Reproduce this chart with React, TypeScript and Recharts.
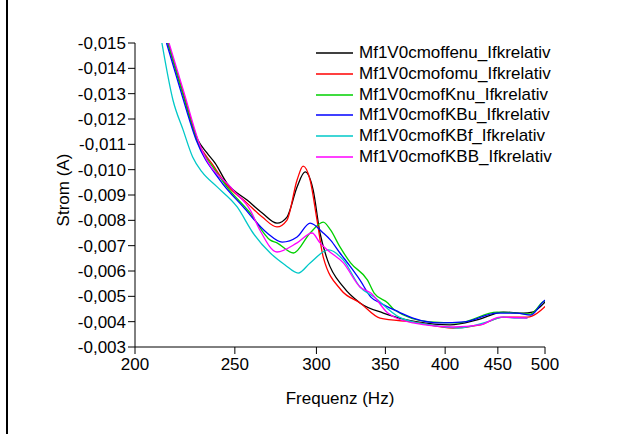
import React from 'react';
import { LineChart, Line, XAxis, YAxis, Legend } from 'recharts';

const FONT = '"Liberation Sans", Arial, sans-serif';

const seriesNames = [
  'Mf1V0cmoffenu_Ifkrelativ',
  'Mf1V0cmofomu_Ifkrelativ',
  'Mf1V0cmofKnu_Ifkrelativ',
  'Mf1V0cmofKBu_Ifkrelativ',
  'Mf1V0cmofKBf_Ifkrelativ',
  'Mf1V0cmofKBB_Ifkrelativ',
];
const seriesColors = ['#000000', '#ff0000', '#00d000', '#0000ff', '#00c8c8', '#ff00ff'];

// Frequenz (Hz) / Strom (A) per curve
const freqOffenu = [215.3, 222.7, 230.2, 234.9, 239.2, 245.6, 256.9, 265.8, 274.7, 280.9, 287.3, 292.5, 297.8, 302.4, 307.5, 318.6, 330.7, 348.4, 375.9, 404.4, 429.6, 455.5, 476.3, 486, 502];
const currOffenu = [-0.015, -0.0130, -0.01117, -0.01066, -0.01026, -0.00947, -0.0088, -0.00829, -0.00789, -0.00813, -0.00932, -0.00991, -0.0092, -0.0075, -0.00643, -0.00537, -0.00474, -0.00434, -0.00399, -0.00387, -0.00407, -0.00438, -0.00434, -0.00438, -0.00485];

const freqOmu = [215.3, 222.7, 230.2, 238.1, 245.6, 256.9, 265.8, 274.7, 280.9, 287.3, 291.2, 295.8, 300.4, 304.6, 317, 330.7, 345.8, 372.3, 407.3, 432.5, 455.5, 480.7, 502];
const currOmu = [-0.015, -0.01303, -0.01109, -0.01018, -0.00939, -0.00868, -0.00813, -0.00774, -0.00801, -0.00959, -0.01014, -0.00959, -0.00801, -0.00655, -0.00525, -0.00474, -0.00414, -0.00399, -0.00375, -0.00387, -0.00418, -0.00418, -0.00466];

const freqKnu = [215.3, 222.7, 230.2, 238.1, 245.6, 258.7, 270.6, 274.7, 285.0, 295.8, 304.6, 309.6, 316.2, 323.8, 336.3, 341.3, 351.9, 357.2, 386.7, 411.3, 449.3, 469.8, 484.1, 497.8, 502];
const currKnu = [-0.015, -0.01295, -0.01105, -0.0101, -0.00932, -0.00829, -0.00722, -0.00711, -0.00671, -0.0075, -0.00793, -0.00762, -0.00695, -0.00632, -0.00564, -0.00513, -0.00474, -0.00446, -0.00399, -0.00395, -0.00438, -0.00434, -0.0043, -0.00478, -0.00485];

const freqKBu = [214.6, 221.8, 229.3, 241.8, 254.7, 268.7, 277.9, 287.3, 295.8, 304.6, 309.6, 316.2, 323.8, 330.7, 338.8, 345.8, 360.8, 372.3, 395.5, 417.2, 449.3, 469.8, 484.1, 497.8, 502];
const currKBu = [-0.015, -0.01303, -0.01117, -0.00959, -0.00853, -0.0075, -0.00714, -0.00734, -0.00789, -0.0075, -0.00722, -0.00671, -0.00616, -0.00564, -0.00497, -0.00474, -0.00438, -0.00414, -0.00395, -0.00399, -0.00434, -0.00434, -0.00426, -0.00478, -0.0049];

const freqKBf = [212.4, 217.7, 222.7, 227.5, 232.3, 240.3, 251.3, 260.4, 270.6, 279.7, 288.0, 295.8, 308.2, 318.6, 330.7, 341.3, 360.8, 386.7, 411.3, 439.3, 455.5, 469.8, 480.7];
const currKBf = [-0.015, -0.01275, -0.01157, -0.0105, -0.00991, -0.00932, -0.00853, -0.0075, -0.00671, -0.00624, -0.00592, -0.00632, -0.00683, -0.00643, -0.00537, -0.00497, -0.00418, -0.00387, -0.00375, -0.00399, -0.00418, -0.00414, -0.00414];

const freqKBB = [215.8, 223.2, 231.2, 249.0, 258.7, 264.5, 274.7, 287.3, 297.1, 302.4, 307.5, 318.6, 330.7, 338.8, 351.9, 372.3, 407.3, 432.5, 452.3, 480.7];
const currKBB = [-0.015, -0.01303, -0.01097, -0.0092, -0.00841, -0.0076, -0.00675, -0.00711, -0.0075, -0.00711, -0.00683, -0.00632, -0.00537, -0.00513, -0.00434, -0.00395, -0.00379, -0.00387, -0.00418, -0.00414];

const xTicks = [200, 250, 300, 350, 400, 450, 500];
const yTicks = [-0.015, -0.014, -0.013, -0.012, -0.011, -0.01, -0.009, -0.008, -0.007, -0.006, -0.005, -0.004, -0.003];
const xMinorTicks = Array.from({ length: 61 }, (_, i) => 200 + i * 5);
const yMinorTicks = Array.from({ length: 25 }, (_, i) => Math.round((-0.015 + i * 0.0005) * 1e5) / 1e5);

const toRows = (f: number[], c: number[]) => f.map((x, i) => ({ f: x, i: c[i] }));

const seriesData = [
  toRows(freqOffenu, currOffenu),
  toRows(freqOmu, currOmu),
  toRows(freqKnu, currKnu),
  toRows(freqKBu, currKBu),
  toRows(freqKBf, currKBf),
  toRows(freqKBB, currKBB),
];

const fmtY = (v: number) => v.toFixed(3).replace('.', ',');

const XTitle = () => (
  <text x={340} y={398} textAnchor="middle" dominantBaseline="central" fontFamily={FONT} fontSize={17} fill="#000">
    Frequenz (Hz)
  </text>
);

const YTitle = () => (
  <text x={63} y={190} transform="rotate(-90 63 190)" textAnchor="middle" dominantBaseline="central" fontFamily={FONT} fontSize={17} fill="#000">
    Strom (A)
  </text>
);

const renderLegend = (props: any) => {
  const { payload } = props;
  return (
    <div style={{ fontFamily: FONT, fontSize: 17, color: '#000' }}>
      {payload.map((entry: any) => (
        <div key={entry.value} style={{ display: 'flex', alignItems: 'center', height: 20.7, whiteSpace: 'nowrap' }}>
          <svg width={37} height={4}>
            <line x1={0} y1={2} x2={37} y2={2} stroke={entry.color} strokeWidth={1.3} />
          </svg>
          <span style={{ marginLeft: 6 }}>{entry.value}</span>
        </div>
      ))}
    </div>
  );
};

const tickStyle = { fontSize: 17, fill: '#000', fontFamily: FONT };

export default function App() {
  return (
    <div style={{ position: 'absolute', left: 0, top: 0, width: 627, height: 434, background: '#fff' }}>
      <div style={{ position: 'absolute', left: 6, top: 0, width: 2, height: 434, background: '#000' }} />
      <LineChart width={627} height={434} margin={{ top: 43, right: 82, bottom: 0, left: 0 }}>
        <XAxis
          xAxisId="minor"
          type="number"
          dataKey="f"
          scale="log"
          domain={[200, 500]}
          allowDataOverflow
          ticks={xMinorTicks}
          interval={0}
          height={0}
          tickSize={4}
          axisLine={false}
          tickLine={{ stroke: '#000' }}
          tickFormatter={() => ''}
        />
        <YAxis
          yAxisId="minor"
          type="number"
          dataKey="i"
          domain={[-0.015, -0.003]}
          reversed
          allowDataOverflow
          ticks={yMinorTicks}
          interval={0}
          width={0}
          tickSize={4}
          axisLine={false}
          tickLine={{ stroke: '#000' }}
          tickFormatter={() => ''}
        />
        <XAxis
          xAxisId="main"
          type="number"
          dataKey="f"
          scale="log"
          domain={[200, 500]}
          allowDataOverflow
          ticks={xTicks}
          interval={0}
          height={87}
          tickSize={7}
          tickMargin={4}
          stroke="#000"
          tick={tickStyle}
          label={<XTitle />}
        />
        <YAxis
          yAxisId="main"
          type="number"
          dataKey="i"
          domain={[-0.015, -0.003]}
          reversed
          allowDataOverflow
          ticks={yTicks}
          interval={0}
          width={135}
          tickSize={7}
          tickMargin={2}
          stroke="#000"
          tick={tickStyle}
          tickFormatter={fmtY}
          label={<YTitle />}
        />
        <Legend
          layout="vertical"
          align="center"
          verticalAlign="middle"
          itemSorter={(item: any) => seriesNames.indexOf(item.value)}
          wrapperStyle={{ top: 43, left: 316 }}
          content={renderLegend}
        />
        {seriesData.map((rows, k) => (
          <Line
            key={seriesNames[k]}
            name={seriesNames[k]}
            data={rows}
            dataKey="i"
            xAxisId="main"
            yAxisId="main"
            type="monotone"
            stroke={seriesColors[k]}
            strokeWidth={1.3}
            dot={false}
            activeDot={false}
            isAnimationActive={false}
          />
        ))}
      </LineChart>
    </div>
  );
}
